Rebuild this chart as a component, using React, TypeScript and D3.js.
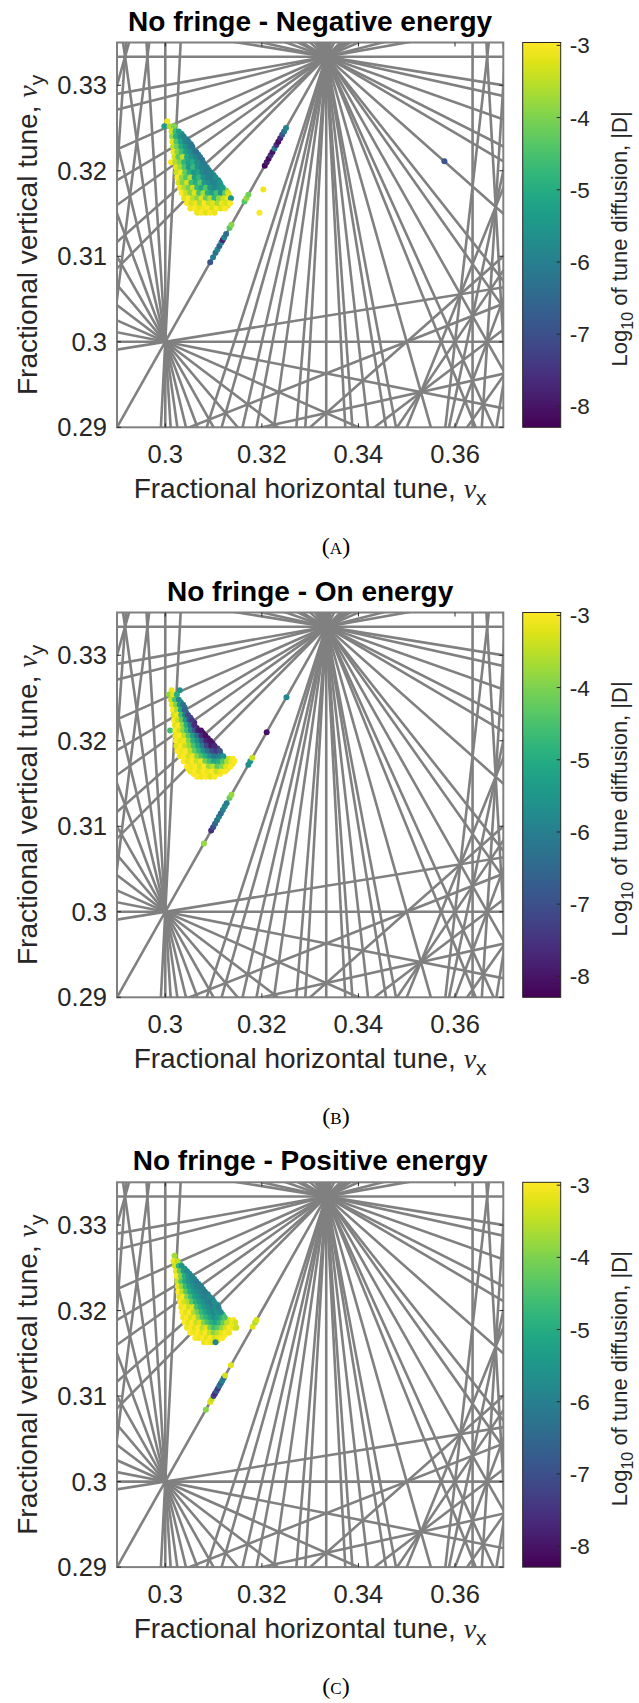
import React from 'react';
import * as d3 from 'd3';

// Tune-space window and axis ticks
const TUNE_X = [0.29, 0.37];
const TUNE_Y = [0.29, 0.335];
const X_TICKS = [0.3, 0.32, 0.34, 0.36];
const Y_TICKS = [0.29, 0.3, 0.31, 0.32, 0.33];
const LOG_D_RANGE = [-8.29, -2.96];
const LOG_D_TICKS = [-8, -7, -6, -5, -4, -3];
const MAX_ORDER = 12;

const TITLES = ['No fringe - Negative energy', 'No fringe - On energy', 'No fringe - Positive energy'];
const CAPTIONS = ['(a)', '(b)', '(c)'];

type Pt = [number, number, number]; // [nu_x, nu_y, log10 |D|]

// Negative energy: main footprint
const negCore: Pt[] = [
  [0.3004, 0.3258, -3.1],
  [0.2998, 0.3252, -5.4], [0.3009, 0.3252, -3.6], [0.3018, 0.3252, -4.0],
  [0.3013, 0.3246, -3.3], [0.3021, 0.3246, -4.6], [0.3028, 0.3246, -5.3],
  [0.3014, 0.3240, -3.8], [0.3022, 0.3240, -4.9], [0.3031, 0.3240, -5.6], [0.3038, 0.3240, -5.9],
  [0.3015, 0.3234, -3.2], [0.3023, 0.3234, -4.4], [0.3032, 0.3234, -5.2], [0.3041, 0.3234, -5.8], [0.3048, 0.3234, -6.1],
  [0.3016, 0.3228, -3.5], [0.3024, 0.3228, -4.1], [0.3033, 0.3228, -5.0], [0.3042, 0.3228, -5.5], [0.3050, 0.3228, -5.9], [0.3056, 0.3228, -6.2],
  [0.3017, 0.3222, -3.1], [0.3025, 0.3222, -3.9], [0.3034, 0.3222, -4.6], [0.3043, 0.3222, -5.3], [0.3052, 0.3222, -5.7], [0.3060, 0.3222, -6.0], [0.3064, 0.3222, -6.3],
  [0.3019, 0.3216, -3.3], [0.3027, 0.3216, -4.3], [0.3036, 0.3216, -3.5], [0.3045, 0.3216, -5.1], [0.3054, 0.3216, -5.5], [0.3063, 0.3216, -5.9], [0.3072, 0.3216, -6.2],
  [0.3012, 0.3210, -3.0], [0.3021, 0.3210, -3.6], [0.3030, 0.3210, -4.0], [0.3039, 0.3210, -4.8], [0.3048, 0.3210, -5.3], [0.3057, 0.3210, -5.0], [0.3066, 0.3210, -5.7], [0.3078, 0.3210, -6.1],
  [0.3022, 0.3204, -3.2], [0.3031, 0.3204, -3.7], [0.3040, 0.3204, -4.5], [0.3049, 0.3204, -5.4], [0.3058, 0.3204, -4.7], [0.3067, 0.3204, -5.6], [0.3076, 0.3204, -5.9], [0.3086, 0.3204, -6.0],
  [0.3023, 0.3198, -3.4], [0.3032, 0.3198, -3.1], [0.3041, 0.3198, -4.2], [0.3050, 0.3198, -4.9], [0.3059, 0.3198, -5.5], [0.3068, 0.3198, -5.2], [0.3077, 0.3198, -5.8], [0.3086, 0.3198, -6.1], [0.3094, 0.3198, -5.9],
  [0.3025, 0.3192, -3.0], [0.3034, 0.3192, -3.8], [0.3043, 0.3192, -4.4], [0.3052, 0.3192, -3.6], [0.3061, 0.3192, -5.3], [0.3070, 0.3192, -4.8], [0.3079, 0.3192, -5.6], [0.3088, 0.3192, -5.9], [0.3097, 0.3192, -6.0], [0.3104, 0.3192, -5.7],
  [0.3027, 0.3186, -3.3], [0.3036, 0.3186, -4.0], [0.3045, 0.3186, -3.3], [0.3054, 0.3186, -4.6], [0.3063, 0.3186, -5.0], [0.3072, 0.3186, -4.3], [0.3081, 0.3186, -5.4], [0.3090, 0.3186, -5.7], [0.3099, 0.3186, -5.9], [0.3108, 0.3186, -5.8], [0.3113, 0.3186, -5.5],
  [0.3030, 0.3180, -3.1], [0.3039, 0.3180, -3.6], [0.3048, 0.3180, -4.1], [0.3057, 0.3180, -3.4], [0.3066, 0.3180, -4.7], [0.3075, 0.3180, -5.1], [0.3084, 0.3180, -4.4], [0.3093, 0.3180, -5.5], [0.3102, 0.3180, -5.8], [0.3111, 0.3180, -5.6], [0.3119, 0.3180, -5.3],
  [0.3034, 0.3174, -3.0], [0.3043, 0.3174, -3.4], [0.3052, 0.3174, -3.9], [0.3061, 0.3174, -3.2], [0.3070, 0.3174, -4.5], [0.3079, 0.3174, -3.7], [0.3088, 0.3174, -4.9], [0.3097, 0.3174, -5.3], [0.3106, 0.3174, -4.6], [0.3115, 0.3174, -5.5], [0.3124, 0.3174, -4.2], [0.3130, 0.3174, -3.3],
  [0.3039, 0.3168, -3.2], [0.3048, 0.3168, -3.0], [0.3057, 0.3168, -3.5], [0.3066, 0.3168, -3.9], [0.3075, 0.3168, -3.2], [0.3084, 0.3168, -4.2], [0.3093, 0.3168, -3.6], [0.3102, 0.3168, -4.8], [0.3111, 0.3168, -3.9], [0.3120, 0.3168, -3.4], [0.3129, 0.3168, -3.1], [0.3136, 0.3168, -5.6],
  [0.3045, 0.3162, -3.0], [0.3054, 0.3162, -3.3], [0.3063, 0.3162, -3.1], [0.3072, 0.3162, -3.6], [0.3081, 0.3162, -3.0], [0.3090, 0.3162, -3.4], [0.3099, 0.3162, -3.2], [0.3108, 0.3162, -3.7], [0.3117, 0.3162, -3.1], [0.3126, 0.3162, -3.3], [0.3134, 0.3162, -3.0],
  [0.3052, 0.3156, -3.1], [0.3061, 0.3156, -3.0], [0.3070, 0.3156, -3.2], [0.3079, 0.3156, -3.1], [0.3088, 0.3156, -3.0], [0.3097, 0.3156, -3.3], [0.3106, 0.3156, -3.0], [0.3115, 0.3156, -3.2], [0.3124, 0.3156, -3.0],
  [0.3066, 0.3151, -3.1], [0.3075, 0.3151, -3.0], [0.3084, 0.3151, -3.2], [0.3093, 0.3151, -3.0], [0.3102, 0.3151, -3.1],
];

// Negative energy: points lying between the rows above
const negFill: Pt[] = [
  [0.3017, 0.3243, -3.6], [0.3026, 0.3243, -5.0], [0.3034, 0.3243, -5.7],
  [0.3019, 0.3237, -4.1], [0.3028, 0.3237, -5.4], [0.3036, 0.3237, -5.9], [0.3044, 0.3237, -6.0],
  [0.3020, 0.3231, -3.9], [0.3029, 0.3231, -4.8], [0.3038, 0.3231, -5.6], [0.3046, 0.3231, -5.9], [0.3053, 0.3231, -6.3],
  [0.3021, 0.3225, -3.4], [0.3030, 0.3225, -4.2], [0.3039, 0.3225, -5.1], [0.3048, 0.3225, -5.6], [0.3057, 0.3225, -6.1],
  [0.3023, 0.3219, -3.7], [0.3032, 0.3219, -4.5], [0.3041, 0.3219, -4.0], [0.3050, 0.3219, -5.4], [0.3059, 0.3219, -5.8], [0.3068, 0.3219, -6.0],
  [0.3025, 0.3213, -3.4], [0.3034, 0.3213, -4.4], [0.3043, 0.3213, -5.0], [0.3052, 0.3213, -4.6], [0.3061, 0.3213, -5.6], [0.3070, 0.3213, -5.9], [0.3076, 0.3213, -6.3],
  [0.3026, 0.3207, -3.9], [0.3035, 0.3207, -4.2], [0.3044, 0.3207, -5.1], [0.3053, 0.3207, -5.6], [0.3062, 0.3207, -5.2], [0.3071, 0.3207, -5.8], [0.3081, 0.3207, -6.2],
  [0.3027, 0.3201, -3.3], [0.3036, 0.3201, -4.0], [0.3045, 0.3201, -4.7], [0.3054, 0.3201, -5.2], [0.3063, 0.3201, -5.7], [0.3072, 0.3201, -5.4], [0.3081, 0.3201, -6.0], [0.3090, 0.3201, -5.8],
  [0.3029, 0.3195, -3.5], [0.3038, 0.3195, -4.3], [0.3047, 0.3195, -3.8], [0.3056, 0.3195, -5.0], [0.3065, 0.3195, -4.5], [0.3074, 0.3195, -5.6], [0.3083, 0.3195, -5.9], [0.3092, 0.3195, -6.1], [0.3100, 0.3195, -5.8],
  [0.3031, 0.3189, -3.7], [0.3040, 0.3189, -3.2], [0.3049, 0.3189, -4.5], [0.3058, 0.3189, -4.9], [0.3067, 0.3189, -5.2], [0.3076, 0.3189, -4.6], [0.3085, 0.3189, -5.6], [0.3094, 0.3189, -5.9], [0.3103, 0.3189, -6.0], [0.3110, 0.3189, -5.6],
  [0.3033, 0.3183, -3.4], [0.3042, 0.3183, -3.9], [0.3051, 0.3183, -3.5], [0.3060, 0.3183, -4.4], [0.3069, 0.3183, -4.9], [0.3078, 0.3183, -5.3], [0.3087, 0.3183, -4.8], [0.3096, 0.3183, -5.6], [0.3105, 0.3183, -5.7], [0.3115, 0.3183, -5.4],
  [0.3037, 0.3177, -3.2], [0.3046, 0.3177, -3.7], [0.3055, 0.3177, -4.2], [0.3064, 0.3177, -3.6], [0.3073, 0.3177, -4.8], [0.3082, 0.3177, -5.2], [0.3091, 0.3177, -4.3], [0.3100, 0.3177, -5.4], [0.3109, 0.3177, -5.1], [0.3118, 0.3177, -4.9], [0.3126, 0.3177, -3.8],
  [0.3042, 0.3171, -3.1], [0.3051, 0.3171, -3.5], [0.3060, 0.3171, -3.8], [0.3069, 0.3171, -3.3], [0.3078, 0.3171, -4.4], [0.3087, 0.3171, -3.9], [0.3096, 0.3171, -4.5], [0.3105, 0.3171, -3.6], [0.3114, 0.3171, -4.4], [0.3123, 0.3171, -3.5], [0.3132, 0.3171, -3.2],
  [0.3047, 0.3165, -3.1], [0.3056, 0.3165, -3.4], [0.3065, 0.3165, -3.0], [0.3074, 0.3165, -3.7], [0.3083, 0.3165, -3.3], [0.3092, 0.3165, -3.9], [0.3101, 0.3165, -3.4], [0.3110, 0.3165, -3.2], [0.3119, 0.3165, -3.6], [0.3128, 0.3165, -3.1],
  [0.3057, 0.3159, -3.0], [0.3066, 0.3159, -3.2], [0.3075, 0.3159, -3.0], [0.3084, 0.3159, -3.3], [0.3093, 0.3159, -3.1], [0.3102, 0.3159, -3.0], [0.3111, 0.3159, -3.3], [0.3120, 0.3159, -3.1], [0.3129, 0.3159, -3.2],
];

// Negative energy: particles locked on the coupling line and stray points
const negStray: Pt[] = [
  [0.3093, 0.3093, -6.9], [0.3099, 0.3099, -6.0], [0.3104, 0.3104, -6.3], [0.3108, 0.3108, -5.8], [0.3112, 0.3112, -6.6],
  [0.3116, 0.3116, -6.0], [0.3119, 0.3119, -7.8], [0.3122, 0.3122, -5.9], [0.3126, 0.3126, -6.4], [0.3133, 0.3133, -4.3],
  [0.3137, 0.3137, -3.9], [0.3164, 0.3164, -4.4], [0.3168, 0.3168, -3.8], [0.3172, 0.3172, -4.1],
  [0.3206, 0.3206, -8.2], [0.3210, 0.3210, -7.9], [0.3214, 0.3214, -8.1], [0.3218, 0.3218, -7.5], [0.3222, 0.3222, -8.0],
  [0.3226, 0.3226, -6.0], [0.3230, 0.3230, -7.6], [0.3234, 0.3234, -8.1], [0.3238, 0.3238, -7.7], [0.3242, 0.3242, -6.9],
  [0.3246, 0.3246, -6.2], [0.3250, 0.3250, -5.9],
  [0.3203, 0.3178, -3.1], [0.3195, 0.3151, -3.0], [0.3578, 0.3211, -6.9],
];

// On energy: main footprint
const onCore: Pt[] = [
  [0.3013, 0.3259, -3.1], [0.3030, 0.3259, -5.6],
  [0.3008, 0.3254, -3.8], [0.3016, 0.3254, -3.2], [0.3024, 0.3254, -5.0],
  [0.3012, 0.3248, -3.4], [0.3020, 0.3248, -4.5], [0.3028, 0.3248, -5.8],
  [0.3014, 0.3242, -3.2], [0.3022, 0.3242, -4.0], [0.3030, 0.3242, -5.4], [0.3037, 0.3242, -6.3],
  [0.3016, 0.3236, -3.0], [0.3024, 0.3236, -3.6], [0.3032, 0.3236, -5.1], [0.3040, 0.3236, -6.6],
  [0.3017, 0.3230, -3.3], [0.3025, 0.3230, -3.1], [0.3033, 0.3230, -4.6], [0.3041, 0.3230, -6.0], [0.3047, 0.3230, -7.1],
  [0.3018, 0.3224, -3.0], [0.3026, 0.3224, -3.4], [0.3034, 0.3224, -4.2], [0.3042, 0.3224, -5.5], [0.3050, 0.3224, -6.8], [0.3055, 0.3224, -7.4],
  [0.3020, 0.3218, -3.2], [0.3028, 0.3218, -3.0], [0.3036, 0.3218, -3.8], [0.3044, 0.3218, -5.0], [0.3052, 0.3218, -6.2], [0.3060, 0.3218, -7.6],
  [0.3010, 0.3212, -4.6], [0.3021, 0.3212, -3.0], [0.3029, 0.3212, -3.3], [0.3037, 0.3212, -3.9], [0.3045, 0.3212, -4.7], [0.3053, 0.3212, -5.8], [0.3061, 0.3212, -6.9], [0.3068, 0.3212, -7.9], [0.3074, 0.3212, -8.0],
  [0.3021, 0.3206, -3.1], [0.3030, 0.3206, -3.0], [0.3039, 0.3206, -3.5], [0.3048, 0.3206, -4.4], [0.3057, 0.3206, -5.3], [0.3066, 0.3206, -6.4], [0.3075, 0.3206, -7.6], [0.3083, 0.3206, -8.1],
  [0.3022, 0.3200, -3.0], [0.3031, 0.3200, -3.2], [0.3040, 0.3200, -3.1], [0.3049, 0.3200, -4.0], [0.3058, 0.3200, -4.9], [0.3067, 0.3200, -5.7], [0.3076, 0.3200, -6.8], [0.3085, 0.3200, -7.8], [0.3093, 0.3200, -8.0],
  [0.3023, 0.3194, -3.2], [0.3032, 0.3194, -3.0], [0.3041, 0.3194, -3.4], [0.3050, 0.3194, -3.8], [0.3059, 0.3194, -4.5], [0.3068, 0.3194, -5.2], [0.3077, 0.3194, -6.1], [0.3086, 0.3194, -7.2], [0.3095, 0.3194, -7.9], [0.3102, 0.3194, -7.7],
  [0.3025, 0.3188, -3.0], [0.3034, 0.3188, -3.1], [0.3043, 0.3188, -3.0], [0.3052, 0.3188, -3.5], [0.3061, 0.3188, -4.2], [0.3070, 0.3188, -4.8], [0.3079, 0.3188, -5.6], [0.3088, 0.3188, -6.3], [0.3097, 0.3188, -7.0], [0.3106, 0.3188, -7.4], [0.3113, 0.3188, -6.9],
  [0.3030, 0.3182, -3.1], [0.3039, 0.3182, -3.0], [0.3048, 0.3182, -3.3], [0.3057, 0.3182, -3.1], [0.3066, 0.3182, -3.9], [0.3075, 0.3182, -4.5], [0.3084, 0.3182, -5.0], [0.3093, 0.3182, -5.7], [0.3102, 0.3182, -6.2], [0.3111, 0.3182, -6.0], [0.3120, 0.3182, -5.5],
  [0.3038, 0.3176, -3.0], [0.3047, 0.3176, -3.2], [0.3056, 0.3176, -3.0], [0.3065, 0.3176, -3.4], [0.3074, 0.3176, -3.1], [0.3083, 0.3176, -4.1], [0.3092, 0.3176, -4.6], [0.3101, 0.3176, -5.2], [0.3110, 0.3176, -5.0], [0.3119, 0.3176, -4.4], [0.3128, 0.3176, -3.6], [0.3137, 0.3176, -3.1], [0.3143, 0.3176, -3.0],
  [0.3045, 0.3170, -3.0], [0.3054, 0.3170, -3.1], [0.3063, 0.3170, -3.0], [0.3072, 0.3170, -3.3], [0.3081, 0.3170, -3.0], [0.3090, 0.3170, -3.8], [0.3099, 0.3170, -3.5], [0.3108, 0.3170, -4.3], [0.3117, 0.3170, -3.9], [0.3126, 0.3170, -3.2], [0.3135, 0.3170, -3.0],
  [0.3052, 0.3164, -3.1], [0.3061, 0.3164, -3.0], [0.3070, 0.3164, -3.2], [0.3079, 0.3164, -3.0], [0.3088, 0.3164, -3.1], [0.3097, 0.3164, -3.0], [0.3106, 0.3164, -3.4], [0.3115, 0.3164, -3.1], [0.3124, 0.3164, -3.0],
  [0.3066, 0.3158, -3.0], [0.3075, 0.3158, -3.1], [0.3084, 0.3158, -3.0], [0.3093, 0.3158, -3.2], [0.3102, 0.3158, -3.0],
];

const onFill: Pt[] = [
  [0.3014, 0.3251, -3.5], [0.3022, 0.3251, -4.6],
  [0.3016, 0.3245, -3.3], [0.3024, 0.3245, -4.2], [0.3032, 0.3245, -5.9],
  [0.3018, 0.3239, -3.1], [0.3026, 0.3239, -3.8], [0.3034, 0.3239, -5.5], [0.3040, 0.3239, -6.5],
  [0.3020, 0.3233, -3.4], [0.3028, 0.3233, -3.5], [0.3036, 0.3233, -5.0], [0.3043, 0.3233, -6.8],
  [0.3021, 0.3227, -3.1], [0.3030, 0.3227, -3.9], [0.3038, 0.3227, -4.9], [0.3046, 0.3227, -6.3], [0.3052, 0.3227, -7.2],
  [0.3023, 0.3221, -3.0], [0.3031, 0.3221, -3.6], [0.3039, 0.3221, -4.4], [0.3048, 0.3221, -5.8], [0.3056, 0.3221, -7.0], [0.3060, 0.3221, -7.8],
  [0.3024, 0.3215, -3.2], [0.3032, 0.3215, -3.1], [0.3041, 0.3215, -4.1], [0.3049, 0.3215, -5.4], [0.3057, 0.3215, -6.5], [0.3065, 0.3215, -7.8],
  [0.3025, 0.3209, -3.0], [0.3034, 0.3209, -3.4], [0.3043, 0.3209, -3.9], [0.3052, 0.3209, -5.0], [0.3061, 0.3209, -6.1], [0.3070, 0.3209, -7.3], [0.3078, 0.3209, -8.1],
  [0.3026, 0.3203, -3.1], [0.3035, 0.3203, -3.0], [0.3044, 0.3203, -3.7], [0.3053, 0.3203, -4.6], [0.3062, 0.3203, -5.5], [0.3071, 0.3203, -6.7], [0.3080, 0.3203, -7.9], [0.3088, 0.3203, -8.0],
  [0.3027, 0.3197, -3.0], [0.3036, 0.3197, -3.3], [0.3045, 0.3197, -3.2], [0.3054, 0.3197, -4.3], [0.3063, 0.3197, -5.1], [0.3072, 0.3197, -6.0], [0.3081, 0.3197, -7.0], [0.3090, 0.3197, -7.8], [0.3098, 0.3197, -7.9],
  [0.3029, 0.3191, -3.1], [0.3038, 0.3191, -3.0], [0.3047, 0.3191, -3.6], [0.3056, 0.3191, -3.9], [0.3065, 0.3191, -4.7], [0.3074, 0.3191, -5.4], [0.3083, 0.3191, -6.4], [0.3092, 0.3191, -7.3], [0.3101, 0.3191, -7.6], [0.3108, 0.3191, -7.2],
  [0.3033, 0.3185, -3.0], [0.3042, 0.3185, -3.2], [0.3051, 0.3185, -3.0], [0.3060, 0.3185, -3.7], [0.3069, 0.3185, -4.3], [0.3078, 0.3185, -5.1], [0.3087, 0.3185, -5.9], [0.3096, 0.3185, -6.5], [0.3105, 0.3185, -6.8], [0.3114, 0.3185, -6.3],
  [0.3042, 0.3179, -3.1], [0.3051, 0.3179, -3.0], [0.3060, 0.3179, -3.3], [0.3069, 0.3179, -3.6], [0.3078, 0.3179, -3.2], [0.3087, 0.3179, -4.4], [0.3096, 0.3179, -5.1], [0.3105, 0.3179, -5.6], [0.3114, 0.3179, -5.2], [0.3123, 0.3179, -4.6], [0.3132, 0.3179, -3.3], [0.3140, 0.3179, -3.0],
  [0.3049, 0.3173, -3.0], [0.3058, 0.3173, -3.2], [0.3067, 0.3173, -3.1], [0.3076, 0.3173, -3.0], [0.3085, 0.3173, -3.5], [0.3094, 0.3173, -4.0], [0.3103, 0.3173, -4.7], [0.3112, 0.3173, -4.4], [0.3121, 0.3173, -3.7], [0.3130, 0.3173, -3.1], [0.3139, 0.3173, -3.2],
  [0.3048, 0.3167, -3.1], [0.3057, 0.3167, -3.0], [0.3066, 0.3167, -3.1], [0.3075, 0.3167, -3.0], [0.3084, 0.3167, -3.3], [0.3093, 0.3167, -3.1], [0.3102, 0.3167, -3.6], [0.3111, 0.3167, -3.2], [0.3120, 0.3167, -3.0], [0.3129, 0.3167, -3.1],
  [0.3059, 0.3161, -3.0], [0.3068, 0.3161, -3.1], [0.3077, 0.3161, -3.0], [0.3086, 0.3161, -3.2], [0.3095, 0.3161, -3.0], [0.3104, 0.3161, -3.1], [0.3113, 0.3161, -3.0],
];

const onStray: Pt[] = [
  [0.3080, 0.3080, -3.8], [0.3095, 0.3095, -7.6], [0.3099, 0.3099, -7.0], [0.3103, 0.3103, -6.6], [0.3107, 0.3107, -6.2],
  [0.3111, 0.3111, -6.0], [0.3115, 0.3115, -6.4], [0.3119, 0.3119, -6.1], [0.3123, 0.3123, -5.8], [0.3127, 0.3127, -6.0],
  [0.3133, 0.3133, -4.2], [0.3137, 0.3137, -3.8], [0.3172, 0.3172, -5.7], [0.3176, 0.3176, -5.5], [0.3180, 0.3180, -3.4],
  [0.3210, 0.3210, -8.1], [0.3251, 0.3251, -5.8],
];

// Positive energy: main footprint
const posCore: Pt[] = [
  [0.3019, 0.3264, -3.7],
  [0.3017, 0.3258, -3.1], [0.3025, 0.3258, -3.5],
  [0.3020, 0.3252, -3.3], [0.3028, 0.3252, -4.8], [0.3034, 0.3252, -5.6],
  [0.3022, 0.3246, -3.2], [0.3030, 0.3246, -4.2], [0.3038, 0.3246, -5.3], [0.3045, 0.3246, -5.8],
  [0.3024, 0.3240, -3.0], [0.3032, 0.3240, -3.9], [0.3040, 0.3240, -4.9], [0.3048, 0.3240, -5.5], [0.3055, 0.3240, -5.9],
  [0.3025, 0.3234, -3.4], [0.3033, 0.3234, -4.4], [0.3041, 0.3234, -5.1], [0.3049, 0.3234, -5.6], [0.3057, 0.3234, -5.8], [0.3064, 0.3234, -6.1],
  [0.3026, 0.3228, -3.1], [0.3034, 0.3228, -3.8], [0.3042, 0.3228, -4.7], [0.3050, 0.3228, -5.3], [0.3058, 0.3228, -5.6], [0.3066, 0.3228, -5.9], [0.3074, 0.3228, -6.0],
  [0.3027, 0.3222, -3.0], [0.3035, 0.3222, -3.5], [0.3043, 0.3222, -4.3], [0.3051, 0.3222, -5.0], [0.3059, 0.3222, -5.4], [0.3067, 0.3222, -5.7], [0.3075, 0.3222, -5.9], [0.3082, 0.3222, -6.1],
  [0.3029, 0.3216, -3.2], [0.3037, 0.3216, -3.0], [0.3045, 0.3216, -3.9], [0.3053, 0.3216, -4.6], [0.3061, 0.3216, -5.2], [0.3069, 0.3216, -5.5], [0.3077, 0.3216, -5.8], [0.3085, 0.3216, -6.0], [0.3092, 0.3216, -5.8],
  [0.3031, 0.3210, -3.0], [0.3039, 0.3210, -3.3], [0.3047, 0.3210, -3.6], [0.3055, 0.3210, -4.3], [0.3063, 0.3210, -4.9], [0.3071, 0.3210, -5.3], [0.3079, 0.3210, -5.6], [0.3087, 0.3210, -5.9], [0.3095, 0.3210, -6.1], [0.3101, 0.3210, -5.7],
  [0.3033, 0.3204, -3.1], [0.3041, 0.3204, -3.0], [0.3049, 0.3204, -3.4], [0.3057, 0.3204, -3.2], [0.3065, 0.3204, -4.5], [0.3073, 0.3204, -5.0], [0.3081, 0.3204, -5.4], [0.3089, 0.3204, -5.7], [0.3097, 0.3204, -5.9], [0.3105, 0.3204, -5.6], [0.3110, 0.3204, -5.9],
  [0.3035, 0.3198, -3.0], [0.3043, 0.3198, -3.2], [0.3051, 0.3198, -3.0], [0.3059, 0.3198, -3.6], [0.3067, 0.3198, -4.1], [0.3075, 0.3198, -4.7], [0.3083, 0.3198, -5.1], [0.3091, 0.3198, -5.5], [0.3099, 0.3198, -5.8], [0.3107, 0.3198, -5.5], [0.3115, 0.3198, -5.7],
  [0.3037, 0.3192, -3.1], [0.3045, 0.3192, -3.0], [0.3053, 0.3192, -3.3], [0.3061, 0.3192, -3.1], [0.3069, 0.3192, -3.8], [0.3077, 0.3192, -4.4], [0.3085, 0.3192, -4.8], [0.3093, 0.3192, -5.2], [0.3101, 0.3192, -5.6], [0.3109, 0.3192, -5.3], [0.3117, 0.3192, -5.0], [0.3123, 0.3192, -4.5],
  [0.3040, 0.3186, -3.0], [0.3048, 0.3186, -3.2], [0.3056, 0.3186, -3.0], [0.3064, 0.3186, -3.4], [0.3072, 0.3186, -3.2], [0.3080, 0.3186, -4.0], [0.3088, 0.3186, -4.5], [0.3096, 0.3186, -4.9], [0.3104, 0.3186, -5.2], [0.3112, 0.3186, -4.8], [0.3120, 0.3186, -4.2], [0.3128, 0.3186, -3.5], [0.3138, 0.3186, -3.1], [0.3145, 0.3186, -3.3],
  [0.3045, 0.3180, -3.1], [0.3053, 0.3180, -3.0], [0.3061, 0.3180, -3.2], [0.3069, 0.3180, -3.0], [0.3077, 0.3180, -3.5], [0.3085, 0.3180, -3.2], [0.3093, 0.3180, -4.1], [0.3101, 0.3180, -4.6], [0.3109, 0.3180, -4.3], [0.3117, 0.3180, -3.8], [0.3125, 0.3180, -3.3], [0.3133, 0.3180, -3.0], [0.3141, 0.3180, -3.1], [0.3147, 0.3180, -3.4],
  [0.3052, 0.3174, -3.0], [0.3060, 0.3174, -3.1], [0.3068, 0.3174, -3.0], [0.3076, 0.3174, -3.2], [0.3084, 0.3174, -3.0], [0.3092, 0.3174, -3.4], [0.3100, 0.3174, -3.9], [0.3108, 0.3174, -3.6], [0.3116, 0.3174, -3.2], [0.3124, 0.3174, -3.0], [0.3132, 0.3174, -3.1],
  [0.3062, 0.3168, -3.0], [0.3070, 0.3168, -3.1], [0.3078, 0.3168, -3.0], [0.3086, 0.3168, -3.2], [0.3094, 0.3168, -3.0], [0.3102, 0.3168, -3.3], [0.3110, 0.3168, -3.1], [0.3118, 0.3168, -3.0],
  [0.3080, 0.3163, -3.1], [0.3088, 0.3163, -3.0], [0.3096, 0.3163, -3.2], [0.3104, 0.3163, -5.8],
];

const posFill: Pt[] = [
  [0.3022, 0.3255, -3.2], [0.3030, 0.3255, -4.4],
  [0.3024, 0.3249, -3.6], [0.3032, 0.3249, -4.6], [0.3040, 0.3249, -5.5],
  [0.3026, 0.3243, -3.3], [0.3034, 0.3243, -4.1], [0.3042, 0.3243, -5.1], [0.3050, 0.3243, -5.7],
  [0.3028, 0.3237, -3.1], [0.3036, 0.3237, -4.0], [0.3044, 0.3237, -4.8], [0.3052, 0.3237, -5.4], [0.3060, 0.3237, -5.9],
  [0.3029, 0.3231, -3.5], [0.3037, 0.3231, -4.2], [0.3045, 0.3231, -5.0], [0.3053, 0.3231, -5.5], [0.3061, 0.3231, -5.7], [0.3069, 0.3231, -6.0],
  [0.3030, 0.3225, -3.2], [0.3039, 0.3225, -3.7], [0.3047, 0.3225, -4.6], [0.3055, 0.3225, -5.2], [0.3063, 0.3225, -5.5], [0.3071, 0.3225, -5.8], [0.3078, 0.3225, -6.0],
  [0.3032, 0.3219, -3.0], [0.3041, 0.3219, -3.4], [0.3049, 0.3219, -4.2], [0.3057, 0.3219, -4.9], [0.3065, 0.3219, -5.3], [0.3073, 0.3219, -5.6], [0.3081, 0.3219, -5.9], [0.3088, 0.3219, -5.9],
  [0.3034, 0.3213, -3.1], [0.3043, 0.3213, -3.2], [0.3051, 0.3213, -3.8], [0.3059, 0.3213, -4.5], [0.3067, 0.3213, -5.1], [0.3075, 0.3213, -5.4], [0.3083, 0.3213, -5.7], [0.3091, 0.3213, -6.0], [0.3098, 0.3213, -5.8],
  [0.3036, 0.3207, -3.0], [0.3045, 0.3207, -3.1], [0.3053, 0.3207, -3.5], [0.3061, 0.3207, -4.0], [0.3069, 0.3207, -4.7], [0.3077, 0.3207, -5.2], [0.3085, 0.3207, -5.5], [0.3093, 0.3207, -5.8], [0.3101, 0.3207, -5.9], [0.3107, 0.3207, -5.7],
  [0.3038, 0.3201, -3.1], [0.3047, 0.3201, -3.0], [0.3055, 0.3201, -3.3], [0.3063, 0.3201, -3.5], [0.3071, 0.3201, -4.3], [0.3079, 0.3201, -4.9], [0.3087, 0.3201, -5.3], [0.3095, 0.3201, -5.6], [0.3103, 0.3201, -5.7], [0.3111, 0.3201, -5.6],
  [0.3040, 0.3195, -3.0], [0.3049, 0.3195, -3.1], [0.3057, 0.3195, -3.0], [0.3065, 0.3195, -3.4], [0.3073, 0.3195, -4.0], [0.3081, 0.3195, -4.6], [0.3089, 0.3195, -5.0], [0.3097, 0.3195, -5.4], [0.3105, 0.3195, -5.5], [0.3113, 0.3195, -5.2], [0.3119, 0.3195, -4.8],
  [0.3043, 0.3189, -3.1], [0.3051, 0.3189, -3.0], [0.3059, 0.3189, -3.2], [0.3067, 0.3189, -3.1], [0.3075, 0.3189, -3.6], [0.3083, 0.3189, -4.2], [0.3091, 0.3189, -4.7], [0.3099, 0.3189, -5.0], [0.3107, 0.3189, -5.1], [0.3115, 0.3189, -4.6], [0.3123, 0.3189, -4.0], [0.3131, 0.3189, -3.3], [0.3141, 0.3189, -3.0],
  [0.3048, 0.3183, -3.0], [0.3056, 0.3183, -3.1], [0.3064, 0.3183, -3.0], [0.3072, 0.3183, -3.3], [0.3080, 0.3183, -3.6], [0.3088, 0.3183, -4.0], [0.3096, 0.3183, -4.4], [0.3104, 0.3183, -4.8], [0.3112, 0.3183, -4.5], [0.3120, 0.3183, -3.9], [0.3128, 0.3183, -3.4], [0.3136, 0.3183, -3.1], [0.3144, 0.3183, -3.0],
  [0.3056, 0.3177, -3.1], [0.3064, 0.3177, -3.0], [0.3072, 0.3177, -3.1], [0.3080, 0.3177, -3.0], [0.3088, 0.3177, -3.3], [0.3096, 0.3177, -3.7], [0.3104, 0.3177, -4.1], [0.3112, 0.3177, -3.8], [0.3120, 0.3177, -3.3], [0.3128, 0.3177, -3.0],
  [0.3066, 0.3171, -3.0], [0.3074, 0.3171, -3.1], [0.3082, 0.3171, -3.0], [0.3090, 0.3171, -3.2], [0.3098, 0.3171, -3.1], [0.3106, 0.3171, -3.4], [0.3114, 0.3171, -3.1], [0.3122, 0.3171, -3.0],
  [0.3084, 0.3165, -3.0], [0.3092, 0.3165, -3.1], [0.3100, 0.3165, -3.0], [0.3108, 0.3165, -3.2],
];

const posStray: Pt[] = [
  [0.3084, 0.3084, -3.9], [0.3093, 0.3093, -3.2], [0.3096, 0.3096, -3.4], [0.3100, 0.3100, -7.2], [0.3103, 0.3103, -7.6],
  [0.3106, 0.3106, -6.8], [0.3109, 0.3109, -7.4], [0.3112, 0.3112, -6.2], [0.3115, 0.3115, -6.6], [0.3118, 0.3118, -5.9],
  [0.3121, 0.3121, -6.2], [0.3124, 0.3124, -3.3], [0.3136, 0.3136, -3.2], [0.3181, 0.3181, -3.2], [0.3186, 0.3186, -3.6],
  [0.3189, 0.3189, -3.3],
];

// Draw order: in-between points first, then the rows, then the line-locked particles
const PANEL_POINTS: Pt[][] = [
  [...negFill, ...negCore, ...negStray],
  [...onFill, ...onCore, ...onStray],
  [...posFill, ...posCore, ...posStray],
];

// Page layout
const W = 639;
const H = 1703;
const FRAME_LEFT = 117;
const FRAME_W = 386.3;
const FRAME_H = 384.8;
const PANEL_TOPS = [42.5, 612.5, 1182.3];
const CBAR_LEFT = 522.7;
const CBAR_W = 38;
const DOT_R = 3.0;

const SANS = '"Liberation Sans", Arial, Helvetica, sans-serif';
const SERIF = '"Liberation Serif", "Times New Roman", serif';
const TEXT = '#262626';
const LINE_GREY = '#808080';

function gcd(a: number, b: number): number {
  a = Math.abs(a);
  b = Math.abs(b);
  while (b) {
    const t = b;
    b = a % b;
    a = t;
  }
  return a;
}

// Resonance lines m*nu_x + n*nu_y = p with |m| + |n| <= MAX_ORDER crossing the window
function resonanceLines() {
  const [x0, x1] = TUNE_X;
  const [y0, y1] = TUNE_Y;
  const seen = new Set<string>();
  const lines: [number, number, number, number][] = [];
  for (let m = 0; m <= MAX_ORDER; m++) {
    for (let n = -MAX_ORDER; n <= MAX_ORDER; n++) {
      if (m + Math.abs(n) > MAX_ORDER) continue;
      if (m === 0 && n <= 0) continue;
      const c = [m * x0 + n * y0, m * x0 + n * y1, m * x1 + n * y0, m * x1 + n * y1];
      const lo = Math.ceil(Math.min(...c) - 1e-9);
      const hi = Math.floor(Math.max(...c) + 1e-9);
      for (let p = lo; p <= hi; p++) {
        const g = gcd(gcd(m, n), p);
        const key = `${m / g},${n / g},${p / g}`;
        if (seen.has(key)) continue;
        seen.add(key);
        if (Math.abs(n) >= m) {
          const xa = x0 - 0.02;
          const xb = x1 + 0.02;
          lines.push([xa, (p - m * xa) / n, xb, (p - m * xb) / n]);
        } else {
          const ya = y0 - 0.02;
          const yb = y1 + 0.02;
          lines.push([(p - n * ya) / m, ya, (p - n * yb) / m, yb]);
        }
      }
    }
  }
  return lines;
}

const RES_LINES = resonanceLines();

const colour = d3.scaleSequential(d3.interpolateViridis).domain(LOG_D_RANGE as [number, number]);

function Panel({ idx }: { idx: number }) {
  const top = PANEL_TOPS[idx];
  const bottom = top + FRAME_H;
  const right = FRAME_LEFT + FRAME_W;
  const x = d3.scaleLinear().domain(TUNE_X).range([FRAME_LEFT, right]);
  const y = d3.scaleLinear().domain(TUNE_Y).range([bottom, top]);
  const cb = d3.scaleLinear().domain(LOG_D_RANGE).range([bottom, top]);
  const clipId = `frame-clip-${idx}`;
  const gradId = `cbar-grad-${idx}`;
  const midY = (top + bottom) / 2;
  const stops = d3.range(0, 1.0001, 0.05);
  const pts = PANEL_POINTS[idx];

  return (
    <g>
      <defs>
        <clipPath id={clipId}>
          <rect x={FRAME_LEFT} y={top} width={FRAME_W} height={FRAME_H} />
        </clipPath>
        <linearGradient id={gradId} x1="0" y1="1" x2="0" y2="0">
          {stops.map((t) => (
            <stop key={t} offset={t} stopColor={d3.interpolateViridis(t)} />
          ))}
        </linearGradient>
      </defs>

      {/* title */}
      <text x={(FRAME_LEFT + right) / 2} y={top - 12} textAnchor="middle" fontFamily={SANS}
        fontWeight="bold" fontSize={28} fill="#000">{TITLES[idx]}</text>

      {/* resonance lines and tune footprint */}
      <g clipPath={`url(#${clipId})`}>
        {RES_LINES.map((l, i) => (
          <line key={i} x1={x(l[0])} y1={y(l[1])} x2={x(l[2])} y2={y(l[3])}
            stroke={LINE_GREY} strokeWidth={2.6} />
        ))}
        {pts.map((p, i) => (
          <circle key={i} cx={x(p[0])} cy={y(p[1])} r={DOT_R} fill={colour(p[2])} />
        ))}
      </g>

      {/* frame and ticks */}
      <rect x={FRAME_LEFT} y={top} width={FRAME_W} height={FRAME_H} fill="none"
        stroke={LINE_GREY} strokeWidth={2} />
      {X_TICKS.map((t) => (
        <g key={t}>
          <line x1={x(t)} x2={x(t)} y1={bottom} y2={bottom - 4} stroke={TEXT} strokeWidth={1} />
          <line x1={x(t)} x2={x(t)} y1={top} y2={top + 4} stroke={TEXT} strokeWidth={1} />
          <text x={x(t)} y={bottom + 36} textAnchor="middle" fontFamily={SANS} fontSize={25.5}
            fill={TEXT}>{String(t)}</text>
        </g>
      ))}
      {Y_TICKS.map((t) => (
        <g key={t}>
          <line x1={FRAME_LEFT} x2={FRAME_LEFT + 4} y1={y(t)} y2={y(t)} stroke={TEXT} strokeWidth={1} />
          <line x1={right} x2={right - 4} y1={y(t)} y2={y(t)} stroke={TEXT} strokeWidth={1} />
          <text x={FRAME_LEFT - 10} y={y(t) + 9} textAnchor="end" fontFamily={SANS} fontSize={25.5}
            fill={TEXT}>{String(t)}</text>
        </g>
      ))}

      {/* axis labels */}
      <text x={(FRAME_LEFT + right) / 2} y={bottom + 71} textAnchor="middle" fontFamily={SANS}
        fontSize={28} fill={TEXT}>
        <tspan>Fractional horizontal tune, </tspan>
        <tspan fontFamily={SERIF} fontStyle="italic">ν</tspan>
        <tspan dy={7} fontSize={21}>x</tspan>
      </text>
      <text transform={`translate(36.5, ${midY}) rotate(-90)`} textAnchor="middle" fontFamily={SANS}
        fontSize={28} fill={TEXT}>
        <tspan>Fractional vertical tune, </tspan>
        <tspan fontFamily={SERIF} fontStyle="italic">ν</tspan>
        <tspan dy={7} fontSize={21}>y</tspan>
      </text>

      {/* colour bar */}
      <rect x={CBAR_LEFT} y={top} width={CBAR_W} height={FRAME_H} fill={`url(#${gradId})`}
        stroke={TEXT} strokeWidth={1} />
      {LOG_D_TICKS.map((t) => (
        <g key={t}>
          <line x1={CBAR_LEFT + CBAR_W} x2={CBAR_LEFT + CBAR_W - 4} y1={cb(t)} y2={cb(t)}
            stroke={TEXT} strokeWidth={1} />
          <text x={CBAR_LEFT + CBAR_W + 9} y={cb(t) + 8} fontFamily={SANS} fontSize={22.5}
            fill={TEXT}>{String(t)}</text>
        </g>
      ))}
      <text transform={`translate(627, ${midY + 4}) rotate(-90)`} textAnchor="middle" fontFamily={SANS}
        fontSize={22} fill={TEXT}>
        <tspan>Log</tspan>
        <tspan dy={6} fontSize={16}>10</tspan>
        <tspan dy={-6}> of tune diffusion, |D|</tspan>
      </text>

      {/* sub-figure caption */}
      <text x={336} y={bottom + 127} textAnchor="middle" fontFamily={SERIF} fontSize={24}
        style={{ fontVariant: 'small-caps' }} fill="#000">{CAPTIONS[idx]}</text>
    </g>
  );
}

export default function App() {
  return (
    <div style={{ position: 'absolute', left: 0, top: 0 }}>
      <svg width={W} height={H} viewBox={`0 0 ${W} ${H}`} style={{ display: 'block', background: '#fff' }}>
        <rect width={W} height={H} fill="#fff" />
        {[0, 1, 2].map((i) => (
          <Panel key={i} idx={i} />
        ))}
      </svg>
    </div>
  );
}
